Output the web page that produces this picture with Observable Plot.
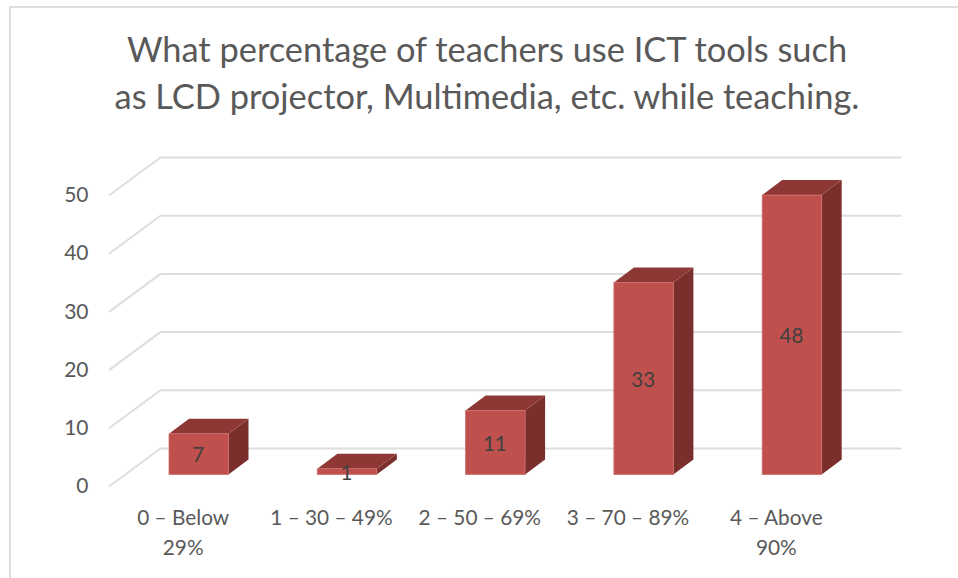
<!DOCTYPE html>
<html>
<head>
<meta charset="utf-8">
<script src="https://cdn.jsdelivr.net/npm/d3@7"></script>
<script src="https://cdn.jsdelivr.net/npm/@observablehq/plot@0.6"></script>
<style>
  html, body { margin: 0; padding: 0; background: #fff; overflow: hidden; }
  #page { position: relative; width: 958px; height: 578px; overflow: hidden; background: #fff; }
  #frame { position: absolute; left: 9px; top: 6px; width: 990px; height: 700px; border: 2px solid #dedede; box-sizing: border-box; }
  #title { position: absolute; left: 0; top: 26px; width: 974px; text-align: center; font: 400 34.4px/46.5px Lato, sans-serif; color: #595959; margin: 0; }
  #chart { position: absolute; left: 0; top: 130px; }
  svg { background: transparent !important; }
</style>
</head>
<body>
<div id="page">
  <div id="frame"></div>
  <h1 id="title">What percentage of teachers use ICT tools such<br>as LCD projector, Multimedia, etc. while teaching.</h1>
  <div id="chart"></div>
</div>
<script>
const categories = ["0 – Below\n29%", "1 – 30 – 49%", "2 – 50 – 69%", "3 – 70 – 89%", "4 – Above\n90%"];
const values = [7, 1, 11, 33, 48];
const gridValues = [0, 10, 20, 30, 40, 50];

// Depth of the 3D box, in data units of the two scales
const wallDX = 0.347, wallDY = 6.53;
const barStart = 0.408, barWidth = 0.401, barDX = 0.135, barDY = 2.58, barLift = 1.98;

const bars = values.map((v, i) => ({
  value: v,
  x1: i + barStart,
  x2: i + barStart + barWidth,
  y1: barLift,
  y2: barLift + v
}));

const sideFaces = bars.flatMap((b, i) => [
  {i, x: b.x2, y1: b.y1, y2: b.y2},
  {i, x: b.x2 + barDX, y1: b.y1 + barDY, y2: b.y2 + barDY}
]);
const topFaces = bars.flatMap((b, i) => [
  {i, y: b.y2, x1: b.x1, x2: b.x2},
  {i, y: b.y2 + barDY, x1: b.x1 + barDX, x2: b.x2 + barDX}
]);

const grid = "#dedede";
const text = "#595959";

const plot = Plot.plot({
  width: 958,
  height: 448,
  margin: 0,
  marginLeft: 108.5,
  style: {fontFamily: "Lato, sans-serif", fontSize: "20px", color: text, background: "transparent", overflow: "visible"},
  x: {type: "linear", domain: [0, 5], range: [108.5, 850], axis: null},
  y: {type: "linear", domain: [0, 50], range: [356, 65]},
  marks: [
    Plot.link(gridValues, {x1: 0, x2: wallDX, y1: d => d, y2: d => d + wallDY, stroke: grid, strokeWidth: 2}),
    Plot.ruleY(gridValues, {y: d => d + wallDY, x1: wallDX, x2: 5 + wallDX, stroke: grid, strokeWidth: 2}),
    Plot.areaY(sideFaces, {x: "x", y1: "y1", y2: "y2", z: "i", fill: "#7b2f2d"}),
    Plot.areaX(topFaces, {y: "y", x1: "x1", x2: "x2", z: "i", fill: "#8e3836"}),
    Plot.rect(bars, {x1: "x1", x2: "x2", y1: "y1", y2: "y2", fill: "#c0504d", stroke: "#cd6f6c", strokeWidth: 0.8}),
    Plot.text(bars, {x: d => (d.x1 + d.x2) / 2, y: d => (d.y1 + d.y2) / 2, text: d => String(d.value), fill: "#404040", fontSize: 20.5, dy: 1, dx: -1}),
    Plot.axisY(gridValues, {anchor: "left", tickSize: 0, tickPadding: 20.5, fontSize: 21, fill: text, label: null, dy: 0}),
    Plot.text(categories, {x: (d, i) => i + 0.5, y: 0, text: d => d, lineAnchor: "top", dy: 17.5, lineHeight: 1.42, fill: text, fontSize: 20.8})
  ]
});
document.getElementById("chart").append(plot);
</script>
</body>
</html>
